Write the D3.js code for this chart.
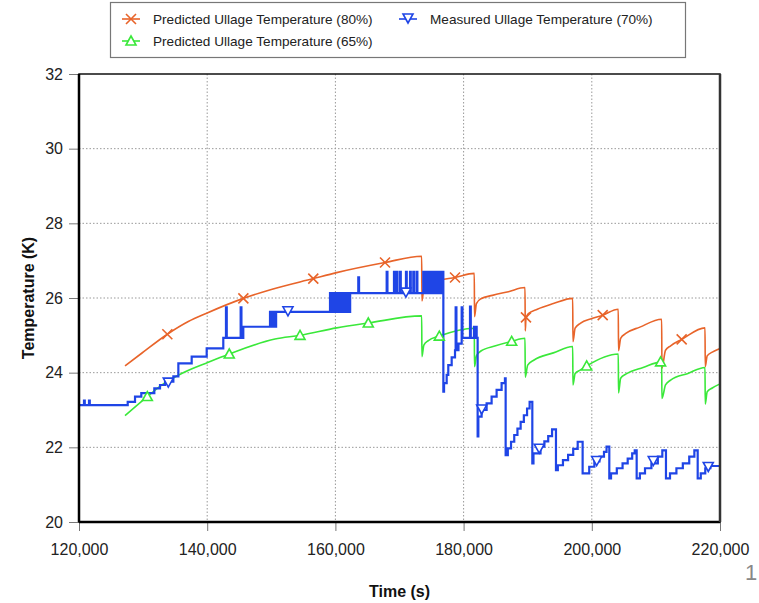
<!DOCTYPE html>
<html lang="en">
<head>
<meta charset="UTF-8">
<title>ullage temperature</title>
<script src="https://d3js.org/d3.v7.min.js"></script>
<style>
	body { margin: 0; background: #fff; }
	svg { font-family: "Liberation Sans", Arial, sans-serif; }
	.grid line { stroke: #999; stroke-dasharray: 1.5,2; stroke-width: 1; }
	.tick text { font-size: 16px; fill: #222; }
	.tick line { stroke: #777; }
	.domain { display: none; }
	.legend text { font-size: 13.6px; fill: #222; }
</style>
</head>
<body>
<div id="viz"></div>
<script>
// series data
var pred80 = [
	[127180,24.18],[129780,24.52],[133780,25.03],[137050,25.37],[140000,25.60],[145640,25.99],
	[150000,26.23],[156550,26.52],[160200,26.68],[167740,26.95],[173460,27.12],
	[173500,25.92],[173800,26.25],[174500,26.37],[176000,26.47],[178660,26.55],[181670,26.66],
	[181700,25.50],[182000,25.85],[182700,25.98],[184500,26.07],[187000,26.17],[189580,26.28],
	[189620,25.12],[189730,25.45],[190100,25.58],[191500,25.70],[194000,25.85],[197020,25.99],
	[197060,24.83],[197400,25.19],[198200,25.32],[200000,25.45],[201700,25.54],[204130,25.70],
	[204170,24.59],[204500,24.92],[205300,25.05],[207500,25.22],[210900,25.43],
	[210940,24.12],[211500,24.60],[212300,24.72],[214020,24.89],[217660,25.20],
	[217700,24.16],[218000,24.45],[218800,24.55],[220000,24.65]
];
var pred65 = [
	[127180,22.85],[130660,23.36],[133000,23.68],[136020,23.98],[140170,24.28],[143440,24.50],
	[150580,24.90],[154480,25.00],[160200,25.20],[165130,25.33],[173460,25.52],
	[173500,24.43],[173800,24.74],[174500,24.86],[176210,24.98],[181670,25.19],
	[181700,24.16],[182000,24.45],[182700,24.58],[185000,24.72],[187500,24.84],[189580,24.92],
	[189620,23.88],[190000,24.20],[191000,24.34],[194000,24.53],[197020,24.70],
	[197060,23.67],[197400,23.98],[198300,24.08],[199200,24.18],[204130,24.50],
	[204170,23.46],[204500,23.85],[205300,23.96],[208000,24.14],[210900,24.29],
	[210940,23.31],[211500,23.67],[212300,23.80],[215000,23.98],[217660,24.14],
	[217700,23.16],[218000,23.49],[218800,23.59],[220000,23.70]
];
var measured70 = [
	[120000,23.13],[120780,23.25],[120900,23.13],[121560,23.25],[121680,23.13],
	[127600,23.22],[128740,23.36],[129720,23.45],[131750,23.58],[132640,23.67],[133420,23.76],
	[134720,23.90],[135500,24.25],[137580,24.43],[139920,24.65],[142510,24.93],
	[142930,25.75],[143050,24.93],[145220,25.75],[145340,24.93],[145630,25.23],
	[149800,25.63],[150000,25.23],[150150,25.63],[150300,25.23],[150450,25.63],[150600,25.23],[150750,25.63],
	[159160,26.13],[159400,25.63],[159550,26.13],[159800,25.63],[159950,26.13],[160200,25.63],
	[160350,26.13],[160600,25.63],[160750,26.13],[161000,25.63],[161150,26.13],[161400,25.63],
	[161550,26.13],[161800,25.63],[161950,26.13],[162150,25.63],[162300,26.13],
	[163570,26.55],[163690,26.13],
	[168000,26.70],[168120,26.13],[169140,26.70],[169260,26.13],[169560,26.70],[169680,26.13],
	[170080,26.70],[170200,26.13],[171010,26.70],[171130,26.13],[171640,26.70],[171760,26.13],
	[172150,26.70],[172270,26.13],[172670,26.70],[172790,26.13],
	[173710,26.70],[173860,26.13],[174010,26.70],[174160,26.13],[174310,26.70],[174460,26.13],
	[174610,26.70],[174760,26.13],[174910,26.70],[175060,26.13],[175210,26.70],[175360,26.13],
	[175510,26.70],[175660,26.13],[175810,26.70],[175960,26.13],[176110,26.70],[176260,26.13],
	[176410,26.70],[176560,26.13],[176700,26.70],
	[176840,23.49],[176950,23.72],[177360,23.94],[177610,24.20],[178140,24.41],[178660,24.60],
	[178760,25.75],[178880,24.60],[179200,24.78],[179700,25.75],[179820,24.93],[181000,25.77],
	[181120,24.93],[181620,25.23],[181760,24.93],[181900,25.23],[182040,24.93],
	[182190,22.29],[182300,22.82],[182810,23.00],[183590,23.18],[184370,23.36],[185150,23.54],
	[185930,23.72],[186450,23.85],
	[186560,21.79],[186900,21.97],[187400,22.15],[187900,22.33],[188400,22.50],[188900,22.68],
	[189400,22.86],[189900,23.04],[190300,23.22],
	[190720,21.57],[190900,21.84],[192000,22.02],[192600,22.16],[193200,22.30],[193800,22.48],
	[194410,21.39],[194700,21.52],[195500,21.66],[196300,21.80],[197100,21.96],[197800,22.15],
	[198570,21.30],[199600,21.48],[200400,21.62],[201200,21.75],[201900,21.88],[202300,22.02],
	[202730,21.17],[203000,21.30],[203900,21.44],[204800,21.57],[205600,21.70],[206300,21.84],[206700,21.92],
	[207000,21.17],[207500,21.30],[208300,21.44],[209300,21.57],[210300,21.75],[211000,21.92],
	[211570,21.17],[212200,21.30],[213200,21.44],[214200,21.57],[215200,21.75],[216000,21.92],
	[216520,21.17],[217000,21.30],[217700,21.44],[218500,21.50],[220000,21.50]
];

// marker positions
var marks80 = [[133780,25.03],[145640,25.99],[156550,26.52],[167740,26.95],[178660,26.55],[189730,25.48],[201700,25.54],[214020,24.89]];
var marks65 = [[130660,23.36],[143440,24.50],[154480,25.00],[165130,25.33],[176210,24.98],[187500,24.84],[199200,24.18],[210730,24.29]];
var marks70 = [[133930,23.72],[152600,25.63],[171000,26.13],[182820,23.00],[191800,21.95],[200760,21.62],[209590,21.62],[218170,21.46]];

var xTicks = [120000,140000,160000,180000,200000,220000];
var yTicks = [20,22,24,26,28,30,32];

var seriesNames = [
	'Predicted Ullage Temperature (80%)',
	'Predicted Ullage Temperature (65%)',
	'Measured Ullage Temperature (70%)'
];
var colors = ['#e8642a', '#3ae83a', '#1f45e6'];

window.onload = function () {
	var W = 759, H = 603;
	var margin = {top: 74, left: 79, right: 39, bottom: 81};

	var x = d3.scaleLinear().domain([120000, 220000]).range([margin.left, W - margin.right]);
	var y = d3.scaleLinear().domain([20, 32]).range([H - margin.bottom, margin.top]);

	var svg = d3.select('#viz').append('svg')
		.attr('width', W)
		.attr('height', H);

	// grid
	var grid = svg.append('g').attr('class', 'grid');
	grid.selectAll('.gx').data(xTicks.slice(1, -1)).enter().append('line')
		.attr('x1', function (d) { return x(d); }).attr('x2', function (d) { return x(d); })
		.attr('y1', y(32)).attr('y2', y(20));
	grid.selectAll('.gy').data(yTicks.slice(1, -1)).enter().append('line')
		.attr('y1', function (d) { return y(d); }).attr('y2', function (d) { return y(d); })
		.attr('x1', x(120000)).attr('x2', x(220000));

	// axes
	svg.append('g')
		.attr('transform', 'translate(0,' + y(20) + ')')
		.call(d3.axisBottom(x).tickValues(xTicks).tickSize(9).tickPadding(13).tickFormat(d3.format(',')));
	svg.append('g')
		.attr('transform', 'translate(' + x(120000) + ',0)')
		.call(d3.axisLeft(y).tickValues(yTicks).tickSize(10).tickPadding(6).tickFormat(d3.format('d')));

	// lines
	var smooth = d3.line()
		.x(function (d) { return x(d[0]); })
		.y(function (d) { return y(d[1]); })
		.curve(d3.curveMonotoneX);
	var steps = d3.line()
		.x(function (d) { return x(d[0]); })
		.y(function (d) { return y(d[1]); })
		.curve(d3.curveStepAfter);

	var plot = svg.append('g');
	plot.append('path').datum(pred80)
		.attr('d', smooth).attr('fill', 'none')
		.attr('stroke', colors[0]).attr('stroke-width', 1.6);
	plot.append('path').datum(pred65)
		.attr('d', smooth).attr('fill', 'none')
		.attr('stroke', colors[1]).attr('stroke-width', 1.6);
	plot.append('path').datum(measured70)
		.attr('d', steps).attr('fill', 'none')
		.attr('stroke', colors[2]).attr('stroke-width', 2.2)
		.attr('stroke-linejoin', 'miter');

	// marker shapes
	function cross(g, c) {
		g.append('path').attr('d', 'M-5,-5L5,5M-5,5L5,-5')
			.attr('stroke', c).attr('stroke-width', 1.6).attr('fill', 'none');
	}
	function tri(g, c) {
		g.append('path').attr('d', 'M0,-5L5,4L-5,4Z')
			.attr('stroke', c).attr('stroke-width', 1.6).attr('fill', '#fff');
	}
	function triDown(g, c) {
		g.append('path').attr('d', 'M0,4L5,-5L-5,-5Z')
			.attr('stroke', c).attr('stroke-width', 1.6).attr('fill', '#fff');
	}

	function addMarks(data, fn, c) {
		plot.selectAll(null).data(data).enter().append('g')
			.attr('transform', function (d) { return 'translate(' + x(d[0]) + ',' + y(d[1]) + ')'; })
			.each(function () { fn(d3.select(this), c); });
	}
	addMarks(marks80, cross, colors[0]);
	addMarks(marks65, tri, colors[1]);
	addMarks(marks70, triDown, colors[2]);

	// frame
	svg.append('rect')
		.attr('x', x(120000)).attr('y', y(32))
		.attr('width', x(220000) - x(120000)).attr('height', y(20) - y(32))
		.attr('fill', 'none').attr('stroke', '#111').attr('stroke-width', 1.5);
	svg.append('line')
		.attr('x1', x(120000)).attr('x2', x(120000)).attr('y1', y(32)).attr('y2', y(20))
		.attr('stroke', '#000').attr('stroke-width', 2.5);
	svg.append('line')
		.attr('x1', x(120000)).attr('x2', x(220000)).attr('y1', y(20)).attr('y2', y(20))
		.attr('stroke', '#000').attr('stroke-width', 2.5);
	svg.append('line')
		.attr('x1', x(220000)).attr('x2', x(220000)).attr('y1', y(32)).attr('y2', y(20))
		.attr('stroke', '#333').attr('stroke-width', 2.5);

	// axis titles
	svg.append('text')
		.attr('transform', 'translate(34,' + ((y(20) + y(32)) / 2) + ') rotate(-90)')
		.attr('text-anchor', 'middle')
		.style('font-size', '16px').style('font-weight', 'bold').style('fill', '#111')
		.text('Temperature (K)');
	svg.append('text')
		.attr('x', (x(120000) + x(220000)) / 2).attr('y', 597)
		.attr('text-anchor', 'middle')
		.style('font-size', '16px').style('font-weight', 'bold').style('fill', '#111')
		.text('Time (s)');

	// legend
	var lg = svg.append('g').attr('class', 'legend');
	lg.append('rect')
		.attr('x', 110.5).attr('y', 2.5).attr('width', 575).attr('height', 55)
		.attr('fill', '#fff').attr('stroke', '#777').attr('stroke-width', 1.2);
	var items = [
		{name: seriesNames[0], c: colors[0], fn: cross, x: 122, y: 19},
		{name: seriesNames[1], c: colors[1], fn: tri, x: 122, y: 41},
		{name: seriesNames[2], c: colors[2], fn: triDown, x: 399, y: 19}
	];
	items.forEach(function (d) {
		var g = lg.append('g').attr('transform', 'translate(' + d.x + ',' + d.y + ')');
		g.append('line').attr('x1', 0).attr('x2', 18).attr('stroke', d.c).attr('stroke-width', 1.6);
		var m = g.append('g').attr('transform', 'translate(9,0)');
		d.fn(m, d.c);
		g.append('text').attr('x', 31).attr('y', 4.5).text(d.name);
	});

	// page number
	svg.append('text')
		.attr('x', 745).attr('y', 580)
		.style('font-size', '22px').style('fill', '#888')
		.text('1');
};
</script>
</body>
</html>
